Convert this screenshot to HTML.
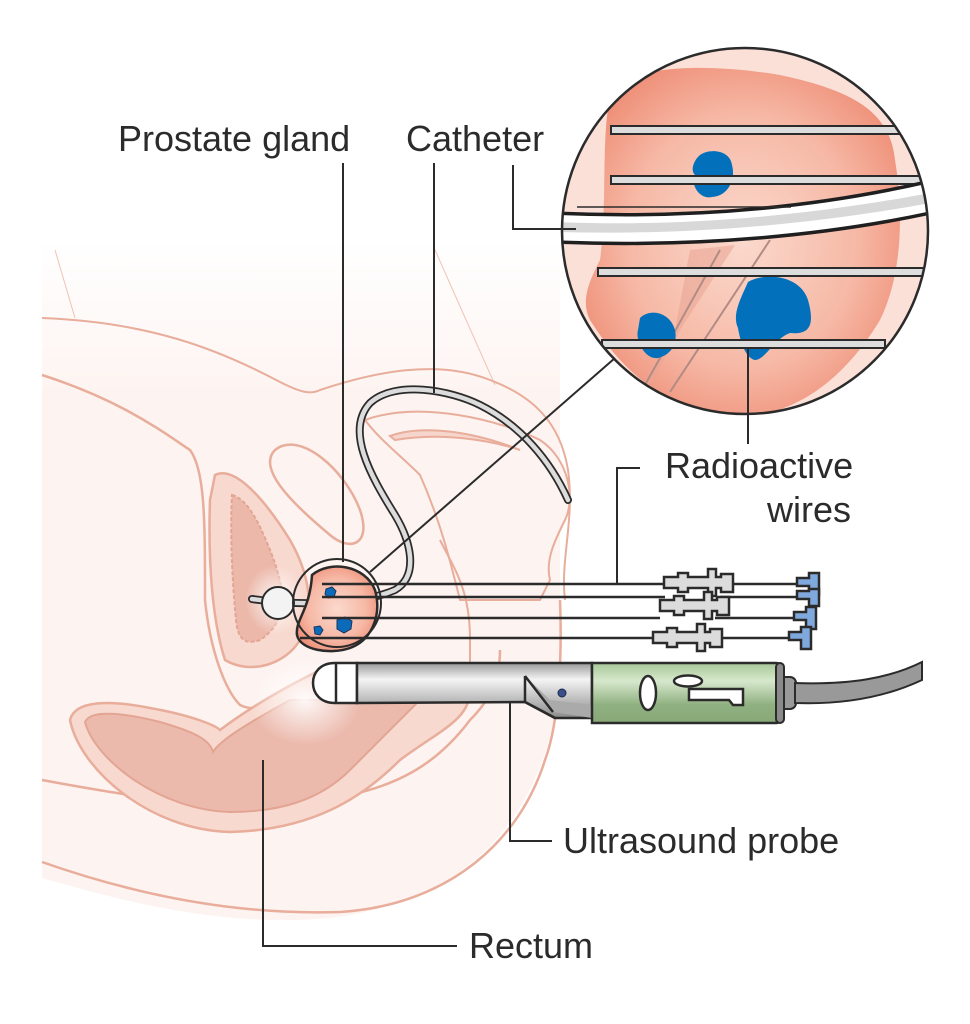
<!DOCTYPE html>
<html><head><meta charset="utf-8"><style>
html,body{margin:0;padding:0;background:#fff;width:970px;height:1024px;overflow:hidden}
svg{display:block}
text{font-family:"Liberation Sans",sans-serif;font-size:36px;fill:#2b2b2b}
</style></head><body>
<svg width="970" height="1024" viewBox="0 0 970 1024" xmlns="http://www.w3.org/2000/svg">
<defs>
<linearGradient id="fade" x1="0" y1="0" x2="0" y2="1">
<stop offset="0" stop-color="#fdf3f0" stop-opacity="0"/><stop offset="0.25" stop-color="#fdf3f0"/><stop offset="1" stop-color="#fdf3f0"/></linearGradient>
<linearGradient id="metal" x1="0" y1="0" x2="0" y2="1">
<stop offset="0" stop-color="#9a9a9a"/><stop offset="0.3" stop-color="#f4f4f4"/><stop offset="1" stop-color="#8a8a8a"/></linearGradient>
<linearGradient id="green" x1="0" y1="0" x2="0" y2="1">
<stop offset="0" stop-color="#a8c898"/><stop offset="0.3" stop-color="#d6e8cc"/><stop offset="0.7" stop-color="#8fb080"/><stop offset="1" stop-color="#88a878"/></linearGradient>
<radialGradient id="pros" cx="0.5" cy="0.5" r="0.6">
<stop offset="0" stop-color="#fbd9cd"/><stop offset="0.6" stop-color="#f6b9a6"/><stop offset="1" stop-color="#ee8a72"/></radialGradient>
<radialGradient id="glow" cx="0.5" cy="0.5" r="0.5">
<stop offset="0" stop-color="#fff" stop-opacity="0.9"/><stop offset="1" stop-color="#fff" stop-opacity="0"/></radialGradient>
<clipPath id="bigc"><circle cx="745" cy="231" r="183"/></clipPath>
</defs>

<path d="M42,240 L560,240 L560,690 C540,820 470,900 330,918 C220,928 120,900 42,878 Z" fill="url(#fade)"/>
<path d="M55,250 L75,318" stroke="#f0c2b4" stroke-width="1" fill="none"/>
<path d="M435,250 L495,385" stroke="#f0c2b4" stroke-width="1" fill="none"/>
<g fill="none" stroke="#e8ad9b" stroke-width="2.5">
<path d="M42,318 C150,322 220,350 280,382 C300,392 310,395 320,390 C380,370 440,360 490,380 C530,395 560,420 568,470 C575,520 560,560 565,600" stroke-width="2"/>
<path d="M42,375 C120,400 160,430 190,450 C205,470 205,520 205,600 C210,650 225,690 240,705 C260,715 280,700 300,690"/>
<path d="M42,780 C150,800 220,810 320,800 C400,790 440,760 470,720"/>
<path d="M42,862 C150,900 250,915 340,912 C450,905 520,840 545,760 C560,720 562,650 560,600"/>
<path d="M470,720 C490,700 500,680 500,650"/>
</g>
<path d="M275,450 C300,430 345,470 360,510 C372,545 350,552 330,535 C300,510 255,470 275,450 Z" fill="#fdf3f0" stroke="#e8ad9b" stroke-width="2.5"/>
<path d="M365,420 C420,400 500,420 540,440 C570,460 575,500 565,520 C555,540 545,560 550,580 L540,600 L460,600 C450,560 440,520 420,475 C400,455 380,440 365,420 Z" fill="#fdf3f0" stroke="#e8ad9b" stroke-width="2"/>
<path d="M390,436 C420,425 470,430 520,450 C490,440 440,432 395,440 Z" fill="#f6d5cc" stroke="#e8ad9b" stroke-width="2"/>
<path d="M440,540 C455,570 470,590 470,640 L470,700" fill="none" stroke="#e8ad9b" stroke-width="2"/>
<path d="M215,475 C235,465 265,500 290,540 C310,575 315,610 300,640 C285,665 250,675 225,660 C212,620 208,560 210,500 Z" fill="#f8d9cf" stroke="#e8ad9b" stroke-width="2.5"/>
<path d="M232,495 C250,500 262,530 272,555 C285,590 290,620 260,640 C245,645 238,640 236,620 C232,580 230,530 232,495 Z" fill="#ecb8aa" stroke="#e3a593" stroke-width="2" stroke-dasharray="4 2"/>
<ellipse cx="275" cy="600" rx="30" ry="35" fill="url(#glow)"/>
<path d="M70,720 C75,700 110,700 150,708 C190,715 215,725 220,730 C260,700 300,680 330,665 L470,690 C470,720 440,730 400,760 C360,800 310,830 230,832 C150,830 80,770 70,720 Z" fill="#f8d9cf" stroke="#e8ad9b" stroke-width="2.5"/>
<path d="M85,722 C90,710 120,712 160,722 C195,732 210,740 213,752 C220,740 250,722 290,700 L420,700 C400,720 380,740 350,770 C320,800 280,812 230,812 C160,810 95,760 85,722 Z" fill="#ecbaad" stroke="#e3a593" stroke-width="2"/>
<ellipse cx="305" cy="700" rx="55" ry="45" fill="url(#glow)"/>

<path d="M252,599 C300,606 360,605 395,590 C420,575 410,540 395,515 C370,475 345,430 370,403 C395,380 450,390 480,405 C520,425 550,460 568,500" fill="none" stroke="#2b2b2b" stroke-width="8" stroke-linecap="round"/>
<path d="M252,599 C300,606 360,605 395,590 C420,575 410,540 395,515 C370,475 345,430 370,403 C395,380 450,390 480,405 C520,425 550,460 568,500" fill="none" stroke="#dcdcdc" stroke-width="4.5" stroke-linecap="round"/>
<circle cx="278" cy="603" r="16" fill="#f3f3f3" stroke="#2b2b2b" stroke-width="2"/>

<path d="M312,575 C330,560 365,565 375,590 C382,615 372,640 350,648 C330,655 300,650 297,635 C295,620 310,610 312,575 Z" fill="url(#pros)" stroke="#2b2b2b" stroke-width="2.5"/>
<circle cx="337" cy="603" r="44" fill="none" stroke="#2b2b2b" stroke-width="2"/>
<path d="M326,589 l6,-2 4,4 -2,6 -6,1 -3,-4 Z" fill="#0b6bb8" stroke="#1a3560" stroke-width="1"/>
<path d="M337,620 l8,-3 7,4 -1,8 -7,4 -7,-4 Z" fill="#0b6bb8" stroke="#1a3560" stroke-width="1"/>
<path d="M314,627 l6,-1 3,4 -3,5 -5,-1 Z" fill="#0b6bb8" stroke="#1a3560" stroke-width="1"/>

<g stroke="#2b2b2b" stroke-width="2.5" fill="none">
<line x1="322" y1="584" x2="665" y2="584"/>
<line x1="322" y1="597" x2="665" y2="597"/>
<line x1="322" y1="618" x2="660" y2="618"/>
<line x1="300" y1="638" x2="655" y2="638"/>
<line x1="720" y1="584" x2="800" y2="584"/>
<line x1="720" y1="597" x2="800" y2="597"/>
<line x1="715" y1="618" x2="795" y2="618"/>
<line x1="712" y1="638" x2="790" y2="638"/>
</g>
<g fill="#dcdcdc" stroke="#2b2b2b" stroke-width="2.5">
<path d="M664,577 h14 v-4 h10 v4 h20 v-8 h8 v8 h5 v-3 h12 v18 h-12 v-4 h-5 v8 h-8 v-8 h-20 v4 h-10 v-4 h-14 Z"/>
<path d="M660,600 h14 v-4 h10 v4 h20 v-8 h8 v8 h5 v-3 h12 v18 h-12 v-4 h-5 v8 h-8 v-8 h-20 v4 h-10 v-4 h-14 Z"/>
<path d="M653,632 h14 v-4 h10 v4 h20 v-8 h8 v8 h5 v-3 h12 v18 h-12 v-4 h-5 v8 h-8 v-8 h-20 v4 h-10 v-4 h-14 Z"/>
</g>
<g fill="#7fa8dc" stroke="#2b2b2b" stroke-width="2.5">
<path d="M797,578 h12 v-5 h10 v22 h-10 v-9 h-12 Z"/>
<path d="M797,591 h12 v-2 h10 v17 h-10 v-7 h-12 Z"/>
<path d="M794,612 h12 v-5 h10 v22 h-10 v-9 h-12 Z"/>
<path d="M789,632 h12 v-5 h10 v22 h-10 v-9 h-12 Z"/>
</g>

<path d="M357,663 L335,663 C320,663 313,673 313,683 C313,693 320,703 335,703 L357,703 Z" fill="#fff" stroke="#2b2b2b" stroke-width="2.5"/>
<line x1="336" y1="663" x2="336" y2="703" stroke="#2b2b2b" stroke-width="2.5"/>
<path d="M357,663 L592,663 L592,718 L555,718 L525,702 L357,703 Z" fill="url(#metal)" stroke="#2b2b2b" stroke-width="2.5"/>
<path d="M525,676 L553,712 L592,718 L592,705 L550,700 Z" fill="#aaa" stroke="none"/>
<path d="M525,676 L525,702 L555,718 M525,676 L553,712" fill="none" stroke="#2b2b2b" stroke-width="2.5"/>
<circle cx="562" cy="693" r="4" fill="#3a4f8a" stroke="#1a2a50" stroke-width="1"/>
<path d="M592,663 H776 a6,6 0 0 1 6,6 V717 a6,6 0 0 1 -6,6 H592 Z" fill="url(#green)" stroke="#2b2b2b" stroke-width="2.5"/>
<rect x="776" y="663" width="8" height="60" rx="4" fill="#8a8a8a" stroke="#2b2b2b" stroke-width="2"/>
<path d="M784,677 h6 a6,6 0 0 1 6,6 v20 a6,6 0 0 1 -6,6 h-6 Z" fill="#9a9a9a" stroke="#2b2b2b" stroke-width="2"/>
<path d="M795,683 C850,685 890,678 922,662 L922,680 C890,695 850,705 795,703 Z" fill="#999" stroke="#2b2b2b" stroke-width="2"/>
<ellipse cx="648" cy="693" rx="8" ry="17" fill="#fff" stroke="#2b2b2b" stroke-width="2.5"/>
<ellipse cx="688" cy="681" rx="14" ry="5.5" fill="#fff" stroke="#2b2b2b" stroke-width="2.5"/>
<path d="M689,689 h54 v16 h-10 l-4,-5 h-40 Z" fill="#fff" stroke="#2b2b2b" stroke-width="2.5"/>

<circle cx="745" cy="231" r="183" fill="#fbe0d8"/>
<g clip-path="url(#bigc)">
<path d="M612,90 C640,62 720,65 780,75 C850,90 890,110 895,160 C905,220 900,280 880,320 C850,370 810,405 760,415 C700,420 640,400 590,320 C580,300 590,280 600,260 C608,200 600,130 612,90 Z" fill="url(#pros)"/>
<path d="M690,250 L735,245 L680,330 L650,385 L640,390 L675,330 Z" fill="#e9a796" opacity="0.6"/>
<path d="M645,385 L720,250 M670,392 L770,240" stroke="#b28c84" stroke-width="2" fill="none"/>
<path d="M700,155 C710,148 730,150 732,165 C736,180 728,196 712,197 C700,200 690,185 695,175 C690,170 694,160 700,155 Z" fill="#0270ba"/>
<path d="M748,282 C765,272 800,275 808,300 C815,325 810,335 790,333 C775,338 765,360 755,360 C745,358 740,340 738,328 C732,315 740,300 748,282 Z" fill="#0270ba"/>
<path d="M640,318 C650,308 670,312 675,330 C678,345 670,355 658,358 C645,360 635,340 638,330 Z" fill="#0270ba"/>
<rect x="611" y="126" width="300" height="8" fill="#ddd" stroke="#2b2b2b" stroke-width="2"/>
<rect x="611" y="176" width="320" height="8" fill="#ddd" stroke="#2b2b2b" stroke-width="2"/>
<rect x="598" y="268" width="330" height="8" fill="#ddd" stroke="#2b2b2b" stroke-width="2"/>
<rect x="602" y="340" width="283" height="8" fill="#ddd" stroke="#2b2b2b" stroke-width="2"/>
<path d="M555,213 C700,220 830,205 935,180 L935,212 C830,235 700,248 555,242 Z" fill="#fff"/>
<path d="M555,222 C700,228 830,212 935,192 L935,202 C830,222 700,236 555,232 Z" fill="#d8d8d8"/>
<path d="M555,213 C700,220 830,205 935,180 M555,242 C700,248 830,235 935,212" fill="none" stroke="#1f1f1f" stroke-width="3.5"/>
<line x1="577" y1="207" x2="791" y2="207" stroke="#2b2b2b" stroke-width="1.5"/>
</g>
<circle cx="745" cy="231" r="183" fill="none" stroke="#2b2b2b" stroke-width="2.5"/>

<g stroke="#2b2b2b" stroke-width="2" fill="none">
<line x1="343" y1="163" x2="343" y2="562"/>
<line x1="434" y1="163" x2="434" y2="393"/>
<path d="M513,165 V229 H576"/>
<path d="M640,468 H617 V583"/>
<line x1="748" y1="348" x2="748" y2="444"/>
<path d="M552,841 H510 V703"/>
<path d="M457,946 H263 V760"/>
<line x1="370" y1="572" x2="615" y2="358"/>
</g>

<text x="118" y="151">Prostate gland</text>
<text x="406" y="151">Catheter</text>
<text x="665" y="478">Radioactive</text>
<text x="767" y="522">wires</text>
<text x="563" y="853">Ultrasound probe</text>
<text x="469" y="958">Rectum</text>
</svg>
</body></html>
